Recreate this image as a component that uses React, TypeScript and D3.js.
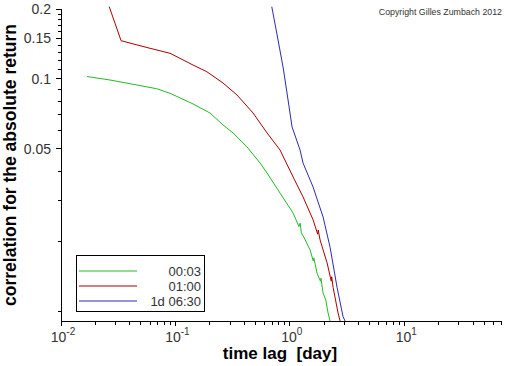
import * as d3 from "d3";

// time lag [day] and correlation values
const lag0003 = [0.0169, 0.0268, 0.0426, 0.0686, 0.0897, 0.1425, 0.2006, 0.2606, 0.3188, 0.4225, 0.549, 0.632, 0.821, 1.067, 1.2, 1.23, 1.26, 1.35, 1.502, 1.6, 1.62, 1.729, 1.85, 1.87, 1.951, 2.06, 2.158, 2.246];
const corr0003 = [0.1025, 0.099, 0.0949, 0.0908, 0.0868, 0.0781, 0.0714, 0.0634, 0.0586, 0.051, 0.0435, 0.0394, 0.0323, 0.0265, 0.0232, 0.0240, 0.0218, 0.0205, 0.0184, 0.0165, 0.0170, 0.0146, 0.0135, 0.0139, 0.012, 0.0112, 0.00985, 0.0091];

const lag0100 = [0.0264, 0.0335, 0.06, 0.0897, 0.1425, 0.1878, 0.2606, 0.3455, 0.4769, 0.632, 0.821, 1.067, 1.304, 1.595, 1.75, 1.77, 1.837, 2.114, 2.3, 2.32, 2.386, 2.638, 2.747];
const corr0100 = [0.2046, 0.1461, 0.1355, 0.129, 0.1148, 0.1075, 0.0961, 0.0853, 0.0714, 0.0586, 0.0495, 0.0379, 0.0311, 0.0248, 0.0215, 0.0224, 0.0203, 0.0162, 0.0135, 0.0141, 0.0127, 0.00985, 0.0091];

const lag0630 = [0.695, 0.768, 0.872, 0.9645, 1.045, 1.228, 1.304, 1.595, 1.951, 2.246, 2.585, 2.917, 3.038];
const corr0630 = [0.2046, 0.1577, 0.1126, 0.0812, 0.0622, 0.0495, 0.0435, 0.0343, 0.0255, 0.0189, 0.0127, 0.0095, 0.0091];

const seriesNames = ["00:03", "01:00", "1d 06:30"];
const seriesColors = ["#22bb22", "#aa0000", "#2a2ab4"];

const xPowers = [-2, -1, 0, 1];
const yLabelTicks = [0.2, 0.15, 0.1, 0.05];
const yMinorTicks = [0.01, 0.02, 0.03, 0.04, 0.06, 0.07, 0.08, 0.09, 0.11, 0.12, 0.13, 0.14, 0.16, 0.17, 0.18, 0.19];
const xMinorMult = [2, 3, 4, 5, 6, 7, 8, 9];

const W = 512, H = 366;
const font = "'Liberation Sans', Arial, sans-serif";

export default function App() {
  const x = d3.scaleLog().domain([0.01, 70]).range([61, 501]);
  const y = d3.scaleLog().domain([0.0091, 0.2]).range([321, 9]);
  const [x0, x1] = x.range();
  const [y0, y1] = y.range();

  const series = [
    { lag: lag0003, corr: corr0003 },
    { lag: lag0100, corr: corr0100 },
    { lag: lag0630, corr: corr0630 },
  ];
  const line = d3.line<[number, number]>().x(d => x(d[0])).y(d => y(d[1]));

  const xMinor: number[] = [];
  xPowers.forEach(p => xMinorMult.forEach(m => {
    const v = m * Math.pow(10, p);
    if (v <= 70) xMinor.push(v);
  }));

  return (
    <svg width={W} height={H} style={{ position: "absolute", left: 0, top: 0, background: "#fff" }}
      fontFamily={font}>
      <defs>
        <clipPath id="plot">
          <rect x={x0} y={5} width={x1 - x0} height={y0 - 5} />
        </clipPath>
      </defs>

      {/* axes */}
      <g stroke="#000" strokeWidth={1} shapeRendering="crispEdges">
        <line x1={x0} x2={x0} y1={y1} y2={y0} />
        <line x1={x0} x2={x1} y1={y0} y2={y0} />
        {yLabelTicks.map(v => <line key={"ym" + v} x1={x0 - 5} x2={x0} y1={y(v)} y2={y(v)} />)}
        {yMinorTicks.map(v => <line key={"yn" + v} x1={x0 - 3} x2={x0} y1={y(v)} y2={y(v)} />)}
        {xPowers.map(p => <line key={"xm" + p} x1={x(Math.pow(10, p))} x2={x(Math.pow(10, p))} y1={y0} y2={y0 + 5} />)}
        {xMinor.map(v => <line key={"xn" + v} x1={x(v)} x2={x(v)} y1={y0} y2={y0 + 4} />)}
      </g>

      {/* tick labels */}
      <g fill="#333" fontSize={14}>
        {yLabelTicks.map(v => (
          <text key={"yl" + v} x={51} y={y(v)} dy="0.35em" textAnchor="end">{String(v)}</text>
        ))}
        {xPowers.map(p => (
          <text key={"xl" + p} x={x(Math.pow(10, p)) + 2} y={342} textAnchor="middle">
            10<tspan fontSize={10} dy={-7}>{String(p)}</tspan>
          </text>
        ))}
      </g>

      {/* axis titles */}
      <text x={280} y={359} textAnchor="middle" fontSize={17} fontWeight="bold" fill="#000">{"time lag\u00a0 [day]"}</text>
      <text transform={`translate(16,165) rotate(-90)`} textAnchor="middle" fontSize={17.5} fontWeight="bold" fill="#000">
        correlation for the absolute return
      </text>

      <text x={502} y={15} textAnchor="end" fontSize={8.8} fill="#333">Copyright Gilles Zumbach 2012</text>

      {/* curves */}
      <g clipPath="url(#plot)" fill="none" strokeWidth={1}>
        {series.map((s, i) => (
          <path key={i} d={line(s.lag.map((l, j) => [l, s.corr[j]] as [number, number])) || ""}
            stroke={seriesColors[i]} />
        ))}
      </g>

      {/* legend */}
      <rect x={76.5} y={255.5} width={128} height={56} fill="#fff" stroke="#000" strokeWidth={1} />
      {seriesNames.map((n, i) => {
        const ly = 271 + i * 15;
        return (
          <g key={n}>
            <line x1={79} x2={137} y1={ly} y2={ly} stroke={seriesColors[i]} strokeWidth={1} />
            <text x={201} y={ly} dy="0.35em" textAnchor="end" fontSize={13} fill="#333">{n}</text>
          </g>
        );
      })}
    </svg>
  );
}
